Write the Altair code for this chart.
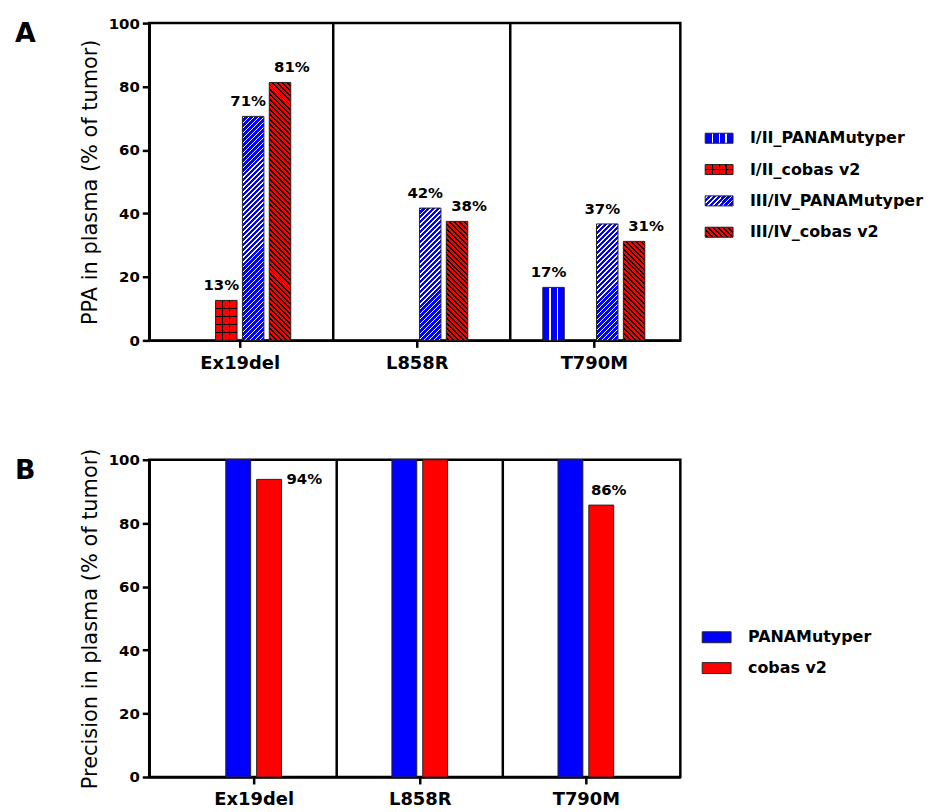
import json
import altair as alt
import pandas as pd

# ---------------- data ----------------
categories = ["Ex19del", "L858R", "T790M"]
series_a = ["I/II_PANAMutyper", "I/II_cobas v2", "III/IV_PANAMutyper", "III/IV_cobas v2"]
ppa_i_ii_panamutyper = [0, 0, 16.7]
ppa_i_ii_cobas = [12.6, 0, 0]
ppa_iii_iv_panamutyper = [70.6, 41.7, 36.7]
ppa_iii_iv_cobas = [81.3, 37.5, 31.2]

series_b = ["PANAMutyper", "cobas v2"]
precision_panamutyper = [100, 100, 100]
precision_cobas = [93.8, 100, 85.7]

y_ticks = [0, 20, 40, 60, 80, 100]
panel_labels = ["A", "B"]

# ---------------- tables ----------------
rows_a = []
for s, vals in zip(series_a, [ppa_i_ii_panamutyper, ppa_i_ii_cobas,
                              ppa_iii_iv_panamutyper, ppa_iii_iv_cobas]):
    for c, v in zip(categories, vals):
        rows_a.append({"cat": c, "series": s, "value": v})
df_a = pd.DataFrame(rows_a)

rows_b = []
for s, vals in zip(series_b, [precision_panamutyper, precision_cobas]):
    for c, v in zip(categories, vals):
        rows_b.append({"cat": c, "series": s, "value": v})
df_b = pd.DataFrame(rows_b)

# ---------------- layout / style ----------------
W, H = 534, 319
BLUE, RED = "#0000ff", "#ff0000"
FONT = "DejaVu Sans"
CLEAR = "rgba(0,0,0,0)"
CATS_JS = json.dumps(categories)

# panel A: 178 px per group, bars 21.6 px wide on a 27 px pitch
A_PX = W / 3.0
A_DOM = [-0.5 - 2 / A_PX, 2.5 - 2 / A_PX]
A_PITCH, A_HALF = 27 / A_PX, 10.8 / A_PX
A_SEP_SHIFT = 5 / A_PX
A_BW = 21.6
# panel B: 167 px per group, bars 25 px wide on a 31 px pitch
B_PX = 167.0
B_DOM = [-105 / B_PX, -105 / B_PX + W / B_PX]
B_PITCH, B_HALF = 31 / B_PX, 12.5 / B_PX
B_SEP_SHIFT = 0.0


def lin_grad(x1, y1, x2, y2, stops):
    return {"gradient": "linear", "x1": round(x1, 5), "y1": round(y1, 5),
            "x2": round(x2, 5), "y2": round(y2, 5),
            "stops": [{"offset": round(min(max(o, 0.0), 1.0), 5), "color": c} for o, c in stops]}


def stripes_1d(length, bg, line, period, lw, n=None):
    n = n or max(1, round(length / period))
    stops = [(0, bg)]
    for k in range(1, n):
        c = k * length / n
        a, b = (c - lw / 2) / length, (c + lw / 2) / length
        stops += [(a, bg), (a, line), (b, line), (b, bg)]
    stops.append((1, bg))
    return stops


def vlines(w, bg, line, period, lw, n=None):
    return lin_grad(0, 0, 1, 0, stripes_1d(w, bg, line, period, lw, n))


def hlines(h, bg, line, period, lw, n=None):
    return lin_grad(0, 0, 0, 1, stripes_1d(h, bg, line, period, lw, n))


def diag(w, h, bg, line, period, lw, rising):
    L = w + h
    k = L / (w * w + h * h)
    stops = [(0, bg)]
    s = period * 0.3
    while s < L:
        a, b = s / L, min((s + lw) / L, 1.0)
        stops += [(a, bg), (a, line), (b, line), (b, bg)]
        s += period
    stops.append((1, bg))
    if rising:
        return lin_grad(0, 0, k * w, k * h, stops)
    return lin_grad(0, 1, k * w, 1 - k * h, stops)


def fills_a(series, w, h, legend=False):
    if series == "I/II_PANAMutyper":
        return [vlines(w, BLUE, "white", 7, 1.2)]
    if series == "I/II_cobas v2":
        return [vlines(w, RED, "black", 7, 1.2),
                hlines(h, CLEAR, "black", 7.5, 1.2, 2 if legend else None)]
    if series == "III/IV_PANAMutyper":
        return [diag(w, h, BLUE, "white", 5.0, 1.5, True)]
    return [diag(w, h, RED, "black", 5.0, 2.0, False)]


def x_axis():
    return alt.Axis(values=[0, 1, 2], labelExpr=CATS_JS + "[datum.value]", labelAngle=0,
                    labelFontSize=18, labelPadding=7, labelFlush=False, title=None, grid=False)


ys = alt.Scale(domain=[0, 100], padding=0, nice=False)


def y_axis(title):
    return alt.Axis(values=y_ticks, title=title, labelFontSize=15, labelPadding=3,
                    titleFontSize=21, titlePadding=8)


def placed(df, series, pitch, half):
    ser_js = json.dumps(series)
    mid = (len(series) - 1) / 2.0
    return alt.Chart(df).transform_calculate(
        ci=f"indexof({CATS_JS}, datum.cat)",
        si=f"indexof({ser_js}, datum.series)",
    ).transform_calculate(
        xc=f"datum.ci + (datum.si - {mid}) * {pitch}",
    ).transform_calculate(
        x_lo=f"datum.xc - {half}", x_hi=f"datum.xc + {half}",
        label="format(datum.value, '.0f') + '%'",
    )


def separators(xscale, shift):
    return (
        alt.Chart(pd.DataFrame({"cat": categories[1:]}))
        .transform_calculate(xs=f"indexof({CATS_JS}, datum.cat) - 0.5 + {shift}")
        .mark_rule(color="black", strokeWidth=2.5)
        .encode(x=alt.X("xs:Q", scale=xscale, axis=x_axis()))
    )


txt_style = dict(font=FONT, fontSize=15, fontWeight="bold", color="black")

# ---------------- panel A ----------------
xs_a = alt.Scale(domain=A_DOM, nice=False, zero=False, padding=0)
ya = alt.Y("value:Q", scale=ys, axis=y_axis("PPA in plasma (% of tumor)"))
base_a = placed(df_a, series_a, A_PITCH, A_HALF)

main_a = []
for r in df_a.itertuples():
    if r.value <= 0:
        continue
    h = r.value / 100 * H
    for i, f in enumerate(fills_a(r.series, A_BW, h)):
        main_a.append(
            base_a.transform_filter((alt.datum.cat == r.cat) & (alt.datum.series == r.series))
            .mark_bar(fill=f, stroke="#222222", strokeWidth=1 if i == 0 else 0, orient="vertical")
            .encode(x=alt.X("x_lo:Q", scale=xs_a, axis=x_axis()), x2="x_hi:Q",
                    y=ya, y2=alt.datum(0))
        )
main_a.append(separators(xs_a, A_SEP_SHIFT))
lbl_a = base_a.transform_filter(alt.datum.value > 0)
main_a.append(
    lbl_a.transform_filter(alt.datum.series != "III/IV_cobas v2")
    .mark_text(baseline="alphabetic", dx=-5, dy=-10, **txt_style)
    .encode(x=alt.X("xc:Q", scale=xs_a, axis=x_axis()), y=ya, text="label:N")
)
main_a.append(
    lbl_a.transform_filter(alt.datum.series == "III/IV_cobas v2")
    .mark_text(baseline="alphabetic", dx=12, dy=-10, **txt_style)
    .encode(x=alt.X("xc:Q", scale=xs_a, axis=x_axis()), y=ya, text="label:N")
)

leg_scale_a = alt.Scale(domain=series_a, range=[100, 226], paddingInner=0.68, paddingOuter=0.34)
leg_df_a = pd.DataFrame({"series": series_a})
legend_a = []
for s in series_a:
    for i, f in enumerate(fills_a(s, 28, 10, legend=True)):
        legend_a.append(
            alt.Chart(leg_df_a).transform_filter(alt.datum.series == s)
            .mark_rect(fill=f, stroke="#222222", strokeWidth=1 if i == 0 else 0)
            .encode(x=alt.value(559), x2=alt.value(587),
                    y=alt.Y("series:N", scale=leg_scale_a, axis=None))
        )
legend_a.append(
    alt.Chart(leg_df_a).mark_text(align="left", baseline="middle", font=FONT, fontSize=16,
                                  fontWeight="bold", color="black")
    .encode(x=alt.value(604), y=alt.Y("series:N", scale=leg_scale_a, axis=None), text="series:N")
)
legend_a.append(
    alt.Chart(pd.DataFrame({"panel": panel_labels[:1]}))
    .mark_text(align="left", baseline="alphabetic", font=FONT, fontSize=27,
               fontWeight="bold", color="black")
    .encode(x=alt.value(-135), y=alt.value(19), text="panel:N")
)

panel_a = alt.layer(alt.layer(*main_a), alt.layer(*legend_a)).resolve_scale(
    y="independent").properties(width=W, height=H)

# ---------------- panel B ----------------
xs_b = alt.Scale(domain=B_DOM, nice=False, zero=False, padding=0)
yb = alt.Y("value:Q", scale=ys, axis=y_axis("Precision in plasma (% of tumor)"))
color_b = alt.Scale(domain=series_b, range=[BLUE, RED])
base_b = placed(df_b, series_b, B_PITCH, B_HALF)

main_b = [
    base_b.mark_bar(stroke="#222222", strokeWidth=1, orient="vertical")
    .encode(x=alt.X("x_lo:Q", scale=xs_b, axis=x_axis()), x2="x_hi:Q", y=yb, y2=alt.datum(0),
            color=alt.Color("series:N", scale=color_b, legend=None)),
    separators(xs_b, B_SEP_SHIFT),
]
lbl_b = base_b.transform_filter(alt.datum.value < 100)
main_b.append(
    lbl_b.transform_filter(alt.datum.cat == "Ex19del")
    .mark_text(align="left", baseline="middle", dx=17.5, **txt_style)
    .encode(x=alt.X("xc:Q", scale=xs_b, axis=x_axis()), y=yb, text="label:N")
)
main_b.append(
    lbl_b.transform_filter(alt.datum.cat != "Ex19del")
    .mark_text(baseline="alphabetic", dx=7.5, dy=-10, **txt_style)
    .encode(x=alt.X("xc:Q", scale=xs_b, axis=x_axis()), y=yb, text="label:N")
)

leg_scale_b = alt.Scale(domain=series_b, range=[163, 225], paddingInner=0.645, paddingOuter=0.3225)
leg_df_b = pd.DataFrame({"series": series_b})
legend_b = [
    alt.Chart(leg_df_b).mark_rect(stroke="#222222", strokeWidth=1)
    .encode(x=alt.value(556), x2=alt.value(585),
            y=alt.Y("series:N", scale=leg_scale_b, axis=None),
            color=alt.Color("series:N", scale=color_b, legend=None)),
    alt.Chart(leg_df_b).mark_text(align="left", baseline="middle", font=FONT, fontSize=16,
                                  fontWeight="bold", color="black")
    .encode(x=alt.value(602), y=alt.Y("series:N", scale=leg_scale_b, axis=None), text="series:N"),
    alt.Chart(pd.DataFrame({"panel": panel_labels[1:]}))
    .mark_text(align="left", baseline="alphabetic", font=FONT, fontSize=27,
               fontWeight="bold", color="black")
    .encode(x=alt.value(-135), y=alt.value(19), text="panel:N"),
]

panel_b = alt.layer(alt.layer(*main_b), alt.layer(*legend_b)).resolve_scale(
    y="independent").properties(width=W, height=H)

chart = (
    alt.vconcat(panel_a, panel_b, spacing=72)
    .properties(padding={"left": 5, "top": 4, "right": 0, "bottom": 0})
    .configure_view(stroke="black", strokeWidth=2.5)
    .configure_axis(labelFont=FONT, labelFontWeight="bold", labelColor="black",
                    titleFont=FONT, titleFontWeight="normal", titleColor="black",
                    domainColor="black", domainWidth=2.5, tickColor="black",
                    tickWidth=2.5, tickSize=7, grid=False)
)

chart.save("out.html", embed_options={"renderer": "svg", "actions": False})
